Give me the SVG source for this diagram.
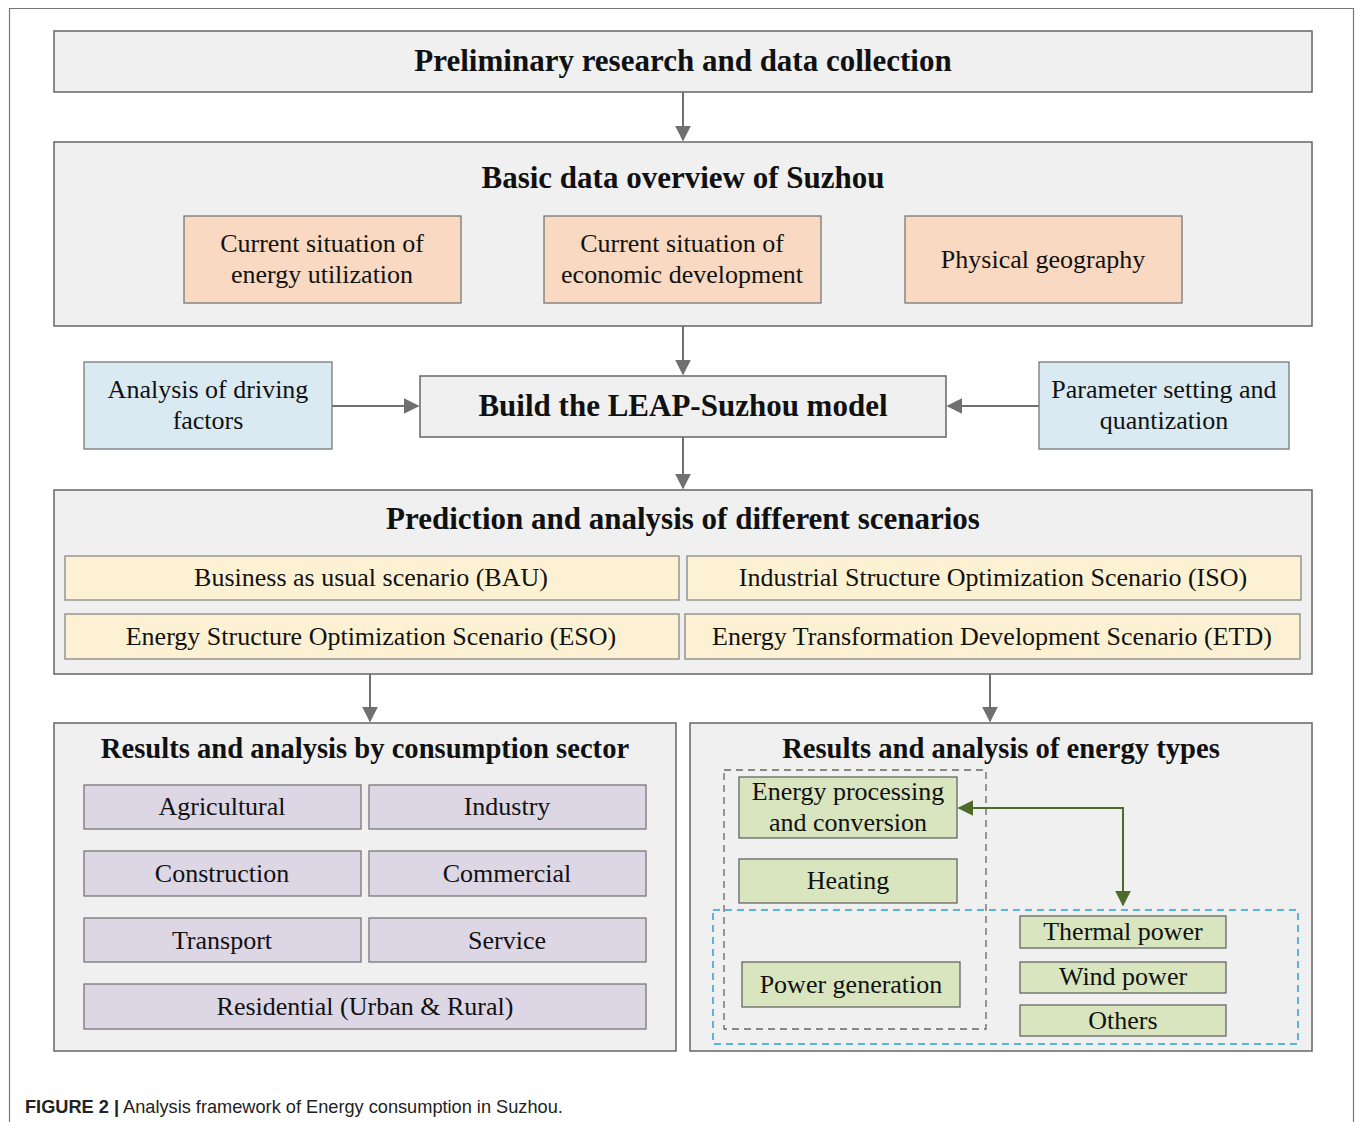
<svg xmlns="http://www.w3.org/2000/svg" width="1355" height="1122" viewBox="0 0 1355 1122">
<defs>
<style>
.frame{fill:none;stroke:#777;stroke-width:1.2}
.panel{fill:#f0f0f0;stroke:#666;stroke-width:1.5}
.org{fill:#f9d9c1;stroke:#777;stroke-width:1.3}
.blu{fill:#d9eaf2;stroke:#777;stroke-width:1.3}
.yel{fill:#fdf1d3;stroke:#888;stroke-width:1.3}
.pur{fill:#dcd6e5;stroke:#777;stroke-width:1.3}
.grn{fill:#d8e5bf;stroke:#666;stroke-width:1.3}
.t{font-family:"Liberation Serif","Times New Roman",serif;font-size:26px;fill:#111;text-anchor:middle}
.h{font-family:"Liberation Serif","Times New Roman",serif;font-size:31px;font-weight:bold;fill:#111;text-anchor:middle}
.h2{font-family:"Liberation Serif","Times New Roman",serif;font-size:28.6px;font-weight:bold;fill:#111;text-anchor:middle}
.conn{stroke:#707070;stroke-width:2;fill:none}
.gconn{stroke:#4e6b2a;stroke-width:2;fill:none}
.cap{font-family:"Liberation Sans",Arial,sans-serif;font-size:18.2px;fill:#222}
</style>
<marker id="gh" viewBox="0 0 10 10" refX="9" refY="5" markerWidth="16" markerHeight="16" orient="auto-start-reverse" markerUnits="userSpaceOnUse">
<path d="M0,0 L10,5 L0,10 z" fill="#4e6b2a"/>
</marker>
<marker id="ga" viewBox="0 0 10 10" refX="9" refY="5" markerWidth="16" markerHeight="16" orient="auto" markerUnits="userSpaceOnUse">
<path d="M0,0 L10,5 L0,10 z" fill="#707070"/>
</marker>
</defs>
<rect width="1355" height="1122" fill="#fff"/>
<path class="frame" d="M9.5,1122 V8.5 H1353.5 V1122"/>

<g id="preliminary">
<rect class="panel" x="54" y="31" width="1258" height="61"/>
<text class="h" x="683" y="71">Preliminary research and data collection</text>
</g>

<g id="basic-data">
<rect class="panel" x="54" y="142" width="1258" height="184"/>
<text class="h" x="683" y="188">Basic data overview of Suzhou</text>
</g>
<g id="energy-utilization">
<rect class="org" x="184" y="216" width="277" height="87"/>
<text class="t" x="322" y="252">Current situation of</text>
<text class="t" x="322" y="283">energy utilization</text>
</g>
<g id="economic-development">
<rect class="org" x="544" y="216" width="277" height="87"/>
<text class="t" x="682" y="252">Current situation of</text>
<text class="t" x="682" y="283">economic development</text>
</g>
<g id="physical-geography">
<rect class="org" x="905" y="216" width="277" height="87"/>
<text class="t" x="1043" y="268">Physical geography</text>
</g>

<g id="driving-factors">
<rect class="blu" x="84" y="362" width="248" height="87"/>
<text class="t" x="208" y="398">Analysis of driving</text>
<text class="t" x="208" y="429">factors</text>
</g>
<g id="leap-model">
<rect class="panel" x="420" y="376" width="526" height="61"/>
<text class="h" x="683" y="416">Build the LEAP-Suzhou model</text>
</g>
<g id="parameter-setting">
<rect class="blu" x="1039" y="362" width="250" height="87"/>
<text class="t" x="1164" y="398">Parameter setting and</text>
<text class="t" x="1164" y="429">quantization</text>
</g>

<g id="scenarios">
<rect class="panel" x="54" y="490" width="1258" height="184"/>
<text class="h" x="683" y="529">Prediction and analysis of different scenarios</text>
</g>
<g id="bau">
<rect class="yel" x="65" y="556" width="614" height="44"/>
<text class="t" x="371" y="586">Business as usual scenario (BAU)</text>
</g>
<g id="iso">
<rect class="yel" x="687" y="556" width="614" height="44"/>
<text class="t" x="993" y="586">Industrial Structure Optimization Scenario (ISO)</text>
</g>
<g id="eso">
<rect class="yel" x="65" y="614" width="614" height="45"/>
<text class="t" x="371" y="645">Energy Structure Optimization Scenario (ESO)</text>
</g>
<g id="etd">
<rect class="yel" x="685" y="614" width="615" height="45"/>
<text class="t" x="992" y="645">Energy Transformation Development Scenario (ETD)</text>
</g>

<g id="consumption-sector">
<rect class="panel" x="54" y="723" width="622" height="328"/>
<text class="h2" x="365" y="758">Results and analysis by consumption sector</text>
</g>
<g id="agricultural"><rect class="pur" x="84" y="785" width="277" height="44"/><text class="t" x="222" y="815">Agricultural</text></g>
<g id="industry"><rect class="pur" x="369" y="785" width="277" height="44"/><text class="t" x="507" y="815">Industry</text></g>
<g id="construction"><rect class="pur" x="84" y="851" width="277" height="45"/><text class="t" x="222" y="882">Construction</text></g>
<g id="commercial"><rect class="pur" x="369" y="851" width="277" height="45"/><text class="t" x="507" y="882">Commercial</text></g>
<g id="transport"><rect class="pur" x="84" y="918" width="277" height="44"/><text class="t" x="222" y="949">Transport</text></g>
<g id="service"><rect class="pur" x="369" y="918" width="277" height="44"/><text class="t" x="507" y="949">Service</text></g>
<g id="residential"><rect class="pur" x="84" y="984" width="562" height="45"/><text class="t" x="365" y="1015">Residential (Urban &amp; Rural)</text></g>

<g id="energy-types">
<rect class="panel" x="690" y="723" width="622" height="328"/>
<text class="h2" x="1001" y="758">Results and analysis of energy types</text>
<rect x="724" y="770" width="262" height="259" fill="none" stroke="#666" stroke-width="1.3" stroke-dasharray="7,5"/>
<rect x="713" y="910" width="585" height="134" fill="none" stroke="#29a3d1" stroke-width="1.5" stroke-dasharray="7,5"/>
</g>
<g id="energy-processing"><rect class="grn" x="739" y="777" width="218" height="61"/><text class="t" x="848" y="800">Energy processing</text><text class="t" x="848" y="831">and conversion</text></g>
<g id="heating"><rect class="grn" x="739" y="859" width="218" height="44"/><text class="t" x="848" y="889">Heating</text></g>
<g id="power-generation"><rect class="grn" x="742" y="962" width="218" height="45"/><text class="t" x="851" y="993">Power generation</text></g>
<g id="thermal-power"><rect class="grn" x="1020" y="916" width="206" height="32"/><text class="t" x="1123" y="940">Thermal power</text></g>
<g id="wind-power"><rect class="grn" x="1020" y="962" width="206" height="31"/><text class="t" x="1123" y="985">Wind power</text></g>
<g id="others"><rect class="grn" x="1020" y="1005" width="206" height="31"/><text class="t" x="1123" y="1029">Others</text></g>

<g id="connectors">
<line class="conn" x1="683" y1="92" x2="683" y2="140" marker-end="url(#ga)"/>
<line class="conn" x1="683" y1="326" x2="683" y2="374" marker-end="url(#ga)"/>
<line class="conn" x1="332" y1="406" x2="418" y2="406" marker-end="url(#ga)"/>
<line class="conn" x1="1039" y1="406" x2="948" y2="406" marker-end="url(#ga)"/>
<line class="conn" x1="683" y1="437" x2="683" y2="488" marker-end="url(#ga)"/>
<line class="conn" x1="370" y1="674" x2="370" y2="721" marker-end="url(#ga)"/>
<line class="conn" x1="990" y1="674" x2="990" y2="721" marker-end="url(#ga)"/>
<path class="gconn" d="M1123,905 V808 H959" marker-start="url(#gh)" marker-end="url(#gh)"/>
</g>

<text class="cap" x="25" y="1113"><tspan font-weight="bold">FIGURE 2 |</tspan> Analysis framework of Energy consumption in Suzhou.</text>
</svg>
